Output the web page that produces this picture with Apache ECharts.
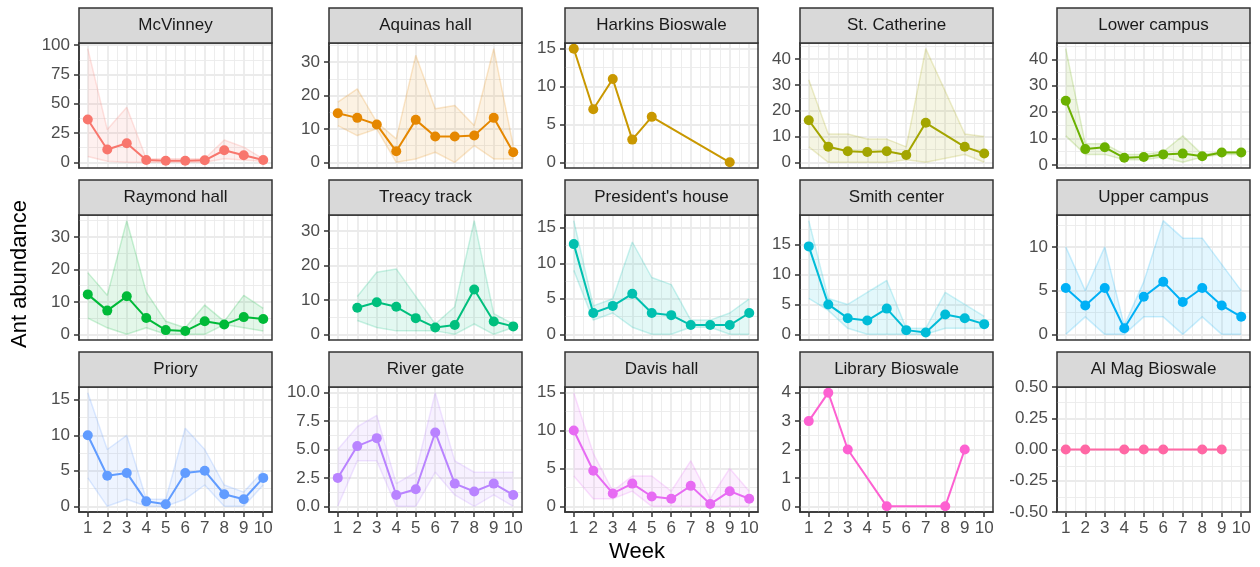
<!DOCTYPE html>
<html>
<head>
<meta charset="utf-8">
<script src="https://cdn.jsdelivr.net/npm/echarts@6/dist/echarts.min.js"></script>
<style>
html,body{margin:0;padding:0;background:#fff;}
#main{width:1260px;height:567px;}
</style>
</head>
<body>
<div id="main"></div>
<script>
// ---------------- DATA ----------------
const weeks = [1, 2, 3, 4, 5, 6, 7, 8, 9, 10];

const siteNames = ['McVinney', 'Aquinas hall', 'Harkins Bioswale', 'St. Catherine', 'Lower campus',
  'Raymond hall', 'Treacy track', "President's house", 'Smith center', 'Upper campus',
  'Priory', 'River gate', 'Davis hall', 'Library Bioswale', 'Al Mag Bioswale'];

const siteColors = ['#F8766D', '#E58700', '#C99800', '#A3A500', '#6BB100',
  '#00BA38', '#00BF7D', '#00C0AF', '#00BCD8', '#00B0F6',
  '#619CFF', '#B983FF', '#E76BF3', '#FD61D1', '#FF67A4'];

// mean abundance per week, and replicate min / max (ribbon)
const mcvinneyMean = [36.5, 11, 16.3, 2, 1.3, 1.3, 1.7, 10.3, 6, 2];
const mcvinneyLo   = [5, 1, 0, 0, 0, 0, 0, 3, 2, 1];
const mcvinneyHi   = [97, 28, 47, 3, 3, 3, 3, 19, 13, 3];

const aquinasMean = [14.7, 13.3, 11.3, 3.3, 12.7, 7.7, 7.7, 8, 13.3, 3];
const aquinasLo   = [11, 8, 10, 0, 1, 3, 0, 5, 1, 1];
const aquinasHi   = [18, 22, 12, 7, 32, 16, 17, 11, 34, 5];

const harkinsMean = [15, 7, 11, 3, 6, null, null, null, 0, null];

const stcathMean = [16.3, 6, 4.3, 4, 4.3, 2.8, 15.3, null, 6, 3.4];
const stcathLo   = [6, 0, 0, 0, 0, 1, 0, null, 3, 0];
const stcathHi   = [32, 11, 11, 9, 9, 6, 44, null, 11, 10];

const lowerMean = [24.3, 6, 6.7, 2.7, 3, 4, 4.3, 3.3, 4.7, 4.7];
const lowerLo   = [11, 4, 4, 2, 2, 3, 1, 3, 4, 4];
const lowerHi   = [44, 8, 8, 4, 4, 5, 11, 4, 5, 5];

const raymondMean = [12.3, 7.3, 11.7, 5, 1.3, 1, 4, 3, 5.3, 4.7];
const raymondLo   = [5, 2, 0, 2, 0, 0, 0, 3, 2, 1];
const raymondHi   = [19, 12, 35, 13, 4, 2, 9, 4, 12, 8];

const treacyMean = [null, 7.7, 9.3, 8, 4.7, 2, 2.7, 13, 3.7, 2.3];
const treacyLo   = [null, 4, 2, 1, 1, 1, 0, 3, 0, 2];
const treacyHi   = [null, 11, 18, 19, 11, 3, 8, 33, 6, 3];

const presMean = [12.7, 3, 4, 5.7, 3, 2.7, 1.3, 1.3, 1.3, 3];
const presLo   = [9, 2, 3, 1, 0, 0, 1, 1, 0, 0];
const presHi   = [16, 4, 5, 13, 8, 7, 2, 2, 3, 5];

const smithMean = [14.7, 5, 2.7, 2.3, 4.3, 0.7, 0.3, 3.3, 2.7, 1.7];
const smithLo   = [6, 4, 1, 0, 0, 0, 0, 1, 1, 1];
const smithHi   = [19, 6, 5, 7, 9, 1, 1, 7, 5, 3];

const upperMean = [5.3, 3.3, 5.3, 0.7, 4.3, 6, 3.7, 5.3, 3.3, 2];
const upperLo   = [0, 2, 0, 0, 2, 2, 0, 2, 0, 0];
const upperHi   = [10, 5, 10, 1, 6, 13, 11, 11, 8, 5];

const prioryMean = [10, 4.3, 4.7, 0.7, 0.3, 4.7, 5, 1.7, 1, 4];
const prioryLo   = [4, 0, 1, 0, 0, 1, 3, 0, 0, 3];
const prioryHi   = [16, 8, 10, 1, 1, 11, 8, 3, 2, 5];

const riverMean = [2.5, 5.3, 6, 1, 1.5, 6.5, 2, 1.3, 2, 1];
const riverLo   = [0, 4, 4, 0, 0, 3, 1, 0, 1, 0];
const riverHi   = [5, 7, 8, 2, 3, 10, 4, 3, 3, 3];

const davisMean = [10, 4.7, 1.7, 3, 1.3, 1, 2.7, 0.3, 2, 1];
const davisLo   = [4, 1, 1, 2, 0, 0, 0, 0, 0, 0];
const davisHi   = [15, 7, 2, 4, 4, 2, 6, 1, 5, 2];

const libraryMean = [3, 4, 2, null, 0, null, null, 0, 2, null];

const almagMean = [0, 0, null, 0, 0, 0, null, 0, 0, null];

// y tick labels per panel
const mcvinneyTicks = ['0', '25', '50', '75', '100'];
const aquinasTicks  = ['0', '10', '20', '30'];
const harkinsTicks  = ['0', '5', '10', '15'];
const stcathTicks   = ['0', '10', '20', '30', '40'];
const lowerTicks    = ['0', '10', '20', '30', '40'];
const raymondTicks  = ['0', '10', '20', '30'];
const treacyTicks   = ['0', '10', '20', '30'];
const presTicks     = ['0', '5', '10', '15'];
const smithTicks    = ['0', '5', '10', '15'];
const upperTicks    = ['0', '5', '10'];
const prioryTicks   = ['0', '5', '10', '15'];
const riverTicks    = ['0.0', '2.5', '5.0', '7.5', '10.0'];
const davisTicks    = ['0', '5', '10', '15'];
const libraryTicks  = ['0', '1', '2', '3', '4'];
const almagTicks    = ['-0.50', '-0.25', '0.00', '0.25', '0.50'];

const xTickLabels = ['1', '2', '3', '4', '5', '6', '7', '8', '9', '10'];
const xTitle = 'Week';
const yTitle = 'Ant abundance';

const meanSets = [mcvinneyMean, aquinasMean, harkinsMean, stcathMean, lowerMean,
  raymondMean, treacyMean, presMean, smithMean, upperMean,
  prioryMean, riverMean, davisMean, libraryMean, almagMean];
const loSets = [mcvinneyLo, aquinasLo, null, stcathLo, lowerLo,
  raymondLo, treacyLo, presLo, smithLo, upperLo,
  prioryLo, riverLo, davisLo, null, null];
const hiSets = [mcvinneyHi, aquinasHi, null, stcathHi, lowerHi,
  raymondHi, treacyHi, presHi, smithHi, upperHi,
  prioryHi, riverHi, davisHi, null, null];
const tickSets = [mcvinneyTicks, aquinasTicks, harkinsTicks, stcathTicks, lowerTicks,
  raymondTicks, treacyTicks, presTicks, smithTicks, upperTicks,
  prioryTicks, riverTicks, davisTicks, libraryTicks, almagTicks];

// ---------------- LAYOUT / STYLE ----------------
const FONT = 'Liberation Sans';
const colLeft = [79, 329, 565, 800, 1057];
const stripTop = [8, 180, 352];
const panelW = 193, stripH = 35, panelH = 125;
const tickFont = 17, titleFont = 22;

function rgba(hex, a) {
  const n = parseInt(hex.slice(1), 16);
  return 'rgba(' + ((n >> 16) & 255) + ',' + ((n >> 8) & 255) + ',' + (n & 255) + ',' + a + ')';
}
function pairs(arr) {
  const out = [];
  arr.forEach((v, k) => { if (v !== null && v !== undefined) out.push([weeks[k], v]); });
  return out;
}

const chart = echarts.init(document.getElementById('main'), null, {renderer: 'canvas'});
const grids = [], xAxes = [], yAxes = [], series = [], graphics = [];
const xVals = xTickLabels.map(Number);
const xMin = 1 - 0.45, xMax = 10 + 0.45;
const xMinor = [];
for (let k = 0; k < xVals.length - 1; k++) xMinor.push((xVals[k] + xVals[k + 1]) / 2);

siteNames.forEach((name, i) => {
  const r = Math.floor(i / 5), c = i % 5;
  const left = colLeft[c], top = stripTop[r] + stripH;
  const color = siteColors[i];
  const mean = meanSets[i], lo = loSets[i], hi = hiSets[i];
  const isBottom = r === 2;

  const all = [];
  [mean, lo, hi].forEach(a => { if (a) a.forEach(v => { if (v !== null) all.push(v); }); });
  let ymin = Math.min(...all), ymax = Math.max(...all);
  if (ymax - ymin === 0) { ymin -= 0.5; ymax += 0.5; }
  else { const d = (ymax - ymin) * 0.05; ymin -= d; ymax += d; }

  const tickLabels = tickSets[i];
  const tickVals = tickLabels.map(Number);
  const step = tickVals[1] - tickVals[0];
  const yMinor = [tickVals[0] - step / 2];
  tickVals.forEach(v => yMinor.push(v + step / 2));

  grids.push({left: left, top: top, width: panelW, height: panelH, show: true,
    backgroundColor: '#FFFFFF', borderWidth: 0, containLabel: false, outerBoundsMode: 'none'});

  xAxes.push({
    type: 'value', gridIndex: i, min: xMin, max: xMax,
    splitLine: {show: false}, minorSplitLine: {show: false},
    axisLine: {show: isBottom, onZero: false, lineStyle: {color: '#333333', width: 1.5}},
    axisTick: {show: isBottom, length: 5, customValues: xVals, lineStyle: {color: '#333333', width: 1.5}},
    axisLabel: {show: isBottom, customValues: xVals, color: '#4D4D4D', fontSize: tickFont,
      fontFamily: FONT, margin: 8, formatter: v => xTickLabels[xVals.indexOf(v)]}
  });
  yAxes.push({
    type: 'value', gridIndex: i, min: ymin, max: ymax,
    splitLine: {show: false}, minorSplitLine: {show: false},
    axisLine: {show: true, onZero: false, lineStyle: {color: '#333333', width: 1.5}},
    axisTick: {show: true, length: 5, customValues: tickVals, lineStyle: {color: '#333333', width: 1.5}},
    axisLabel: {show: true, customValues: tickVals, color: '#4D4D4D', fontSize: tickFont,
      fontFamily: FONT, margin: 9,
      formatter: v => {
        let best = 0;
        tickVals.forEach((t, k) => { if (Math.abs(t - v) < Math.abs(tickVals[best] - v)) best = k; });
        return tickLabels[best];
      }}
  });

  // grid lines
  const ml = [];
  tickVals.forEach(v => { if (v >= ymin && v <= ymax) ml.push({yAxis: v, lineStyle: {width: 1.8}}); });
  yMinor.forEach(v => { if (v > ymin && v < ymax) ml.push({yAxis: v, lineStyle: {width: 0.9}}); });
  xVals.forEach(v => ml.push({xAxis: v, lineStyle: {width: 1.8}}));
  xMinor.forEach(v => ml.push({xAxis: v, lineStyle: {width: 0.9}}));
  series.push({
    type: 'line', xAxisIndex: i, yAxisIndex: i, data: [], z: 1, silent: true, animation: false,
    markLine: {z: 1, silent: true, animation: false, symbol: ['none', 'none'], label: {show: false},
      lineStyle: {color: '#EBEBEB', type: 'solid'}, emphasis: {disabled: true}, data: ml}
  });

  // ribbon + replicate envelope lines
  if (lo && hi) {
    const idx = [];
    weeks.forEach((w, k) => { if (lo[k] !== null && hi[k] !== null) idx.push(k); });
    series.push({
      type: 'custom', xAxisIndex: i, yAxisIndex: i, z: 2, silent: true, animation: false,
      data: [[weeks[idx[0]], (ymin + ymax) / 2]], encode: {x: 0, y: 1},
      renderItem: (params, api) => {
        const pts = [];
        idx.forEach(k => pts.push(api.coord([weeks[k], lo[k]])));
        idx.slice().reverse().forEach(k => pts.push(api.coord([weeks[k], hi[k]])));
        return {type: 'polygon', shape: {points: pts}, style: {fill: rgba(color, 0.11), stroke: null}};
      }
    });
    [lo, hi].forEach(arr => {
      series.push({
        type: 'line', xAxisIndex: i, yAxisIndex: i, z: 3, silent: true, animation: false,
        data: pairs(arr), showSymbol: false, symbol: 'none',
        lineStyle: {color: rgba(color, 0.2), width: 1.5}
      });
    });
  }

  // mean line with points
  series.push({
    type: 'line', xAxisIndex: i, yAxisIndex: i, z: 4, silent: true, animation: false,
    data: pairs(mean), symbol: 'circle', symbolSize: 10, showSymbol: true,
    itemStyle: {color: color}, lineStyle: {color: color, width: 2}
  });

  // panel border
  graphics.push({type: 'rect', z: 100, silent: true,
    shape: {x: left, y: top, width: panelW, height: panelH},
    style: {fill: null, stroke: '#333333', lineWidth: 1.5}});
  // strip
  graphics.push({type: 'rect', z: 100, silent: true,
    shape: {x: left, y: stripTop[r], width: panelW, height: stripH},
    style: {fill: '#D9D9D9', stroke: '#333333', lineWidth: 1.5}});
  graphics.push({type: 'text', z: 101, silent: true,
    x: left + panelW / 2, y: stripTop[r] + stripH / 2,
    style: {text: name, fill: '#1A1A1A', font: tickFont + 'px "' + FONT + '"',
      textAlign: 'center', textVerticalAlign: 'middle'}});
});

graphics.push({type: 'text', z: 101, silent: true,
  x: 637, y: 552,
  style: {text: xTitle, fill: '#000000', font: titleFont + 'px "' + FONT + '"',
    textAlign: 'center', textVerticalAlign: 'middle'}});
graphics.push({type: 'text', z: 101, silent: true,
  x: 20, y: 274, rotation: Math.PI / 2,
  style: {text: yTitle, fill: '#000000', font: titleFont + 'px "' + FONT + '"',
    textAlign: 'center', textVerticalAlign: 'middle'}});

chart.setOption({
  animation: false,
  backgroundColor: '#FFFFFF',
  grid: grids, xAxis: xAxes, yAxis: yAxes, series: series,
  graphic: {elements: graphics}
});
</script>
</body>
</html>
